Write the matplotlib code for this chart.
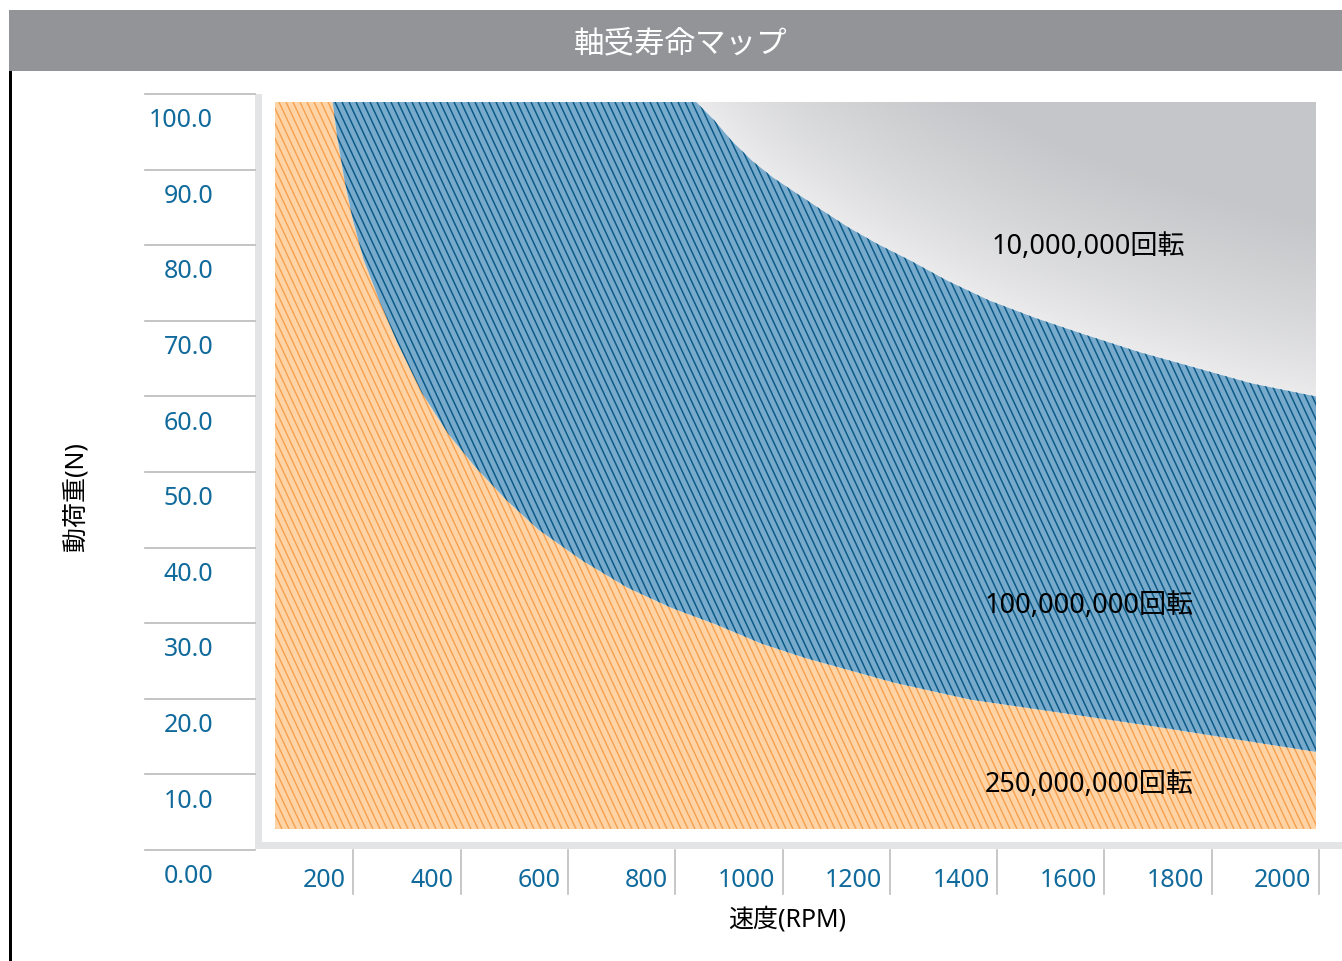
import numpy as np
import matplotlib
matplotlib.use("Agg")
import matplotlib.pyplot as plt
from matplotlib.patches import Polygon, Rectangle
from matplotlib.collections import LineCollection

plt.rcParams['font.family'] = ['Noto Sans', 'Noto Sans CJK JP', 'DejaVu Sans']

W, H = 1342, 962

title = "軸受寿命マップ"
x_label = "速度(RPM)"
y_label = "動荷重(N)"

x_ticks = [200, 400, 600, 800, 1000, 1200, 1400, 1600, 1800, 2000]
y_ticks = [0, 10, 20, 30, 40, 50, 60, 70, 80, 90, 100]
y_tick_labels = ["0.00", "10.0", "20.0", "30.0", "40.0", "50.0",
                 "60.0", "70.0", "80.0", "90.0", "100.0"]

# boundary between 250,000,000 rev zone and 100,000,000 rev zone
rpm_a = [158, 166, 179, 195, 216, 246, 279, 325, 375, 425, 484, 543,
         626, 710, 793, 877, 961, 1044, 1211, 1352, 1689, 2000]
load_a = [100.0, 95.4, 89.7, 84.0, 78.3, 72.6, 66.9, 60.0, 54.3, 49.8, 45.2, 41.2,
          36.9, 33.2, 30.4, 28.1, 25.5, 23.5, 20.1, 17.8, 14.2, 10.6]

# boundary between 100,000,000 rev zone and 10,000,000 rev zone
rpm_b = [839, 874, 905, 944, 983, 1030, 1077, 1123, 1178, 1240, 1310,
         1388, 1474, 1567, 1669, 1762, 1879, 2000]
load_b = [100.0, 97.4, 94.7, 91.9, 89.6, 87.3, 85.0, 82.8, 80.5, 78.2, 75.4,
          72.7, 70.3, 68.0, 65.6, 63.7, 61.3, 59.5]

zone_labels = ["250,000,000回転", "100,000,000回転", "10,000,000回転"]

tick_color = '#106a9c'
x_min, x_max = 50, 2000


def box(x0, y0, x1, y1):
    return [x0 / W, 1 - y1 / H, (x1 - x0) / W, (y1 - y0) / H]


fig = plt.figure(figsize=(W / 100, H / 100), dpi=100)

# page decorations
bg = fig.add_axes([0, 0, 1, 1])
bg.set_xlim(0, W)
bg.set_ylim(H, 0)
bg.axis('off')
bg.add_patch(Rectangle((9, 11), W - 9, 61, color='#939498', lw=0))
bg.text(681, 44, title, color='white', fontsize=22, ha='center', va='center')
bg.add_patch(Rectangle((9, 72), 2.6, H - 72, color='black', lw=0))
bg.add_patch(Rectangle((255, 95), 7, 755, color='#e3e4e6', lw=0))
bg.add_patch(Rectangle((255, 843), W - 255, 7, color='#e3e4e6', lw=0))
bg.text(76, 497, y_label, rotation=90, fontsize=18, ha='center', va='center')
bg.text(787, 920, x_label, fontsize=18, ha='center', va='center')

# y tick strip
ay = fig.add_axes(box(145, 95, 255, 851))
ay.set_xlim(0, 1)
ay.set_ylim(0, 100)
ay.axis('off')
for v, lab in zip(y_ticks, y_tick_labels):
    ay.axhline(v, color='#bababa', lw=1.2, clip_on=False)
    ay.text(0.62, v - 3.4, lab, ha='right', va='center', color=tick_color,
            fontsize=18, clip_on=False)

# x tick strip
axt = fig.add_axes(box(246, 851, 1319, 895))
axt.set_xlim(0, 2000)
axt.set_ylim(0, 1)
axt.axis('off')
for v in x_ticks:
    axt.axvline(v, color='#bdbdbd', lw=1.2, clip_on=False)
    axt.text(v - 14, 0.32, str(v), ha='right', va='center', color=tick_color,
             fontsize=18, clip_on=False)

# main plot
ax = fig.add_axes(box(275, 103, 1316, 830))
wp, hp = 1041, 727

orange_pts = [(x_min, 0), (x_min, 100)] + list(zip(rpm_a, load_a)) + [(x_max, 0)]
blue_pts = list(zip(rpm_a, load_a)) + list(zip(rpm_b[::-1], load_b[::-1]))
gray_pts = list(zip(rpm_b, load_b)) + [(x_max, 100)]

orange = Polygon(orange_pts, closed=True, facecolor='#fed3a6', edgecolor='none')
blue = Polygon(blue_pts, closed=True, facecolor='#78aacb', edgecolor='none')
gray = Polygon(gray_pts, closed=True, facecolor='none', edgecolor='none')
for p in (orange, blue, gray):
    ax.add_patch(p)


def hatch(patch, color, lw, step=7.0, angle=65):
    run = hp / np.tan(np.radians(angle))
    starts = np.arange(-run, wp + step, step)
    segs = [[(c / wp, 1), ((c + run) / wp, 0)] for c in starts]
    lc = LineCollection(segs, colors=color, linewidths=lw, transform=ax.transAxes)
    ax.add_collection(lc)
    lc.set_clip_path(patch)


hatch(orange, '#f6a04e', 1.0)
hatch(blue, '#0d5b89', 1.1)

# gray shading, darker away from the boundary
gx = np.linspace(0, wp, 350)
gy = np.linspace(0, hp, 245)
PX, PY = np.meshgrid(gx, gy)
bx = (np.array(rpm_b) - x_min) / (x_max - x_min) * wp
by = np.array(load_b) / 100 * hp
d = np.full(PX.shape, np.inf)
for i in range(len(bx) - 1):
    x0, y0, x1, y1 = bx[i], by[i], bx[i + 1], by[i + 1]
    dx, dy = x1 - x0, y1 - y0
    t = np.clip(((PX - x0) * dx + (PY - y0) * dy) / (dx * dx + dy * dy), 0, 1)
    dist = np.hypot(PX - (x0 + t * dx), PY - (y0 + t * dy))
    d = np.minimum(d, dist)
t = np.clip(d / 170, 0, 1) ** 0.8
light = np.array([0.925, 0.925, 0.93])
dark = np.array([0.776, 0.78, 0.79])
img = light * (1 - t[..., None]) + dark * t[..., None]
im = ax.imshow(img, extent=(x_min, x_max, 0, 100), origin='lower',
               aspect='auto', zorder=0.5)
im.set_clip_path(gray)

ax.set_xlim(x_min, x_max)
ax.set_ylim(0, 100)
ax.axis('off')

ax.text(1575, 6.2, zone_labels[0], fontsize=19.5, ha='center', va='center')
ax.text(1575, 30.8, zone_labels[1], fontsize=19.5, ha='center', va='center')
ax.text(1573, 80.2, zone_labels[2], fontsize=19.5, ha='center', va='center')

fig.savefig('out.png', dpi=100, facecolor='white')
